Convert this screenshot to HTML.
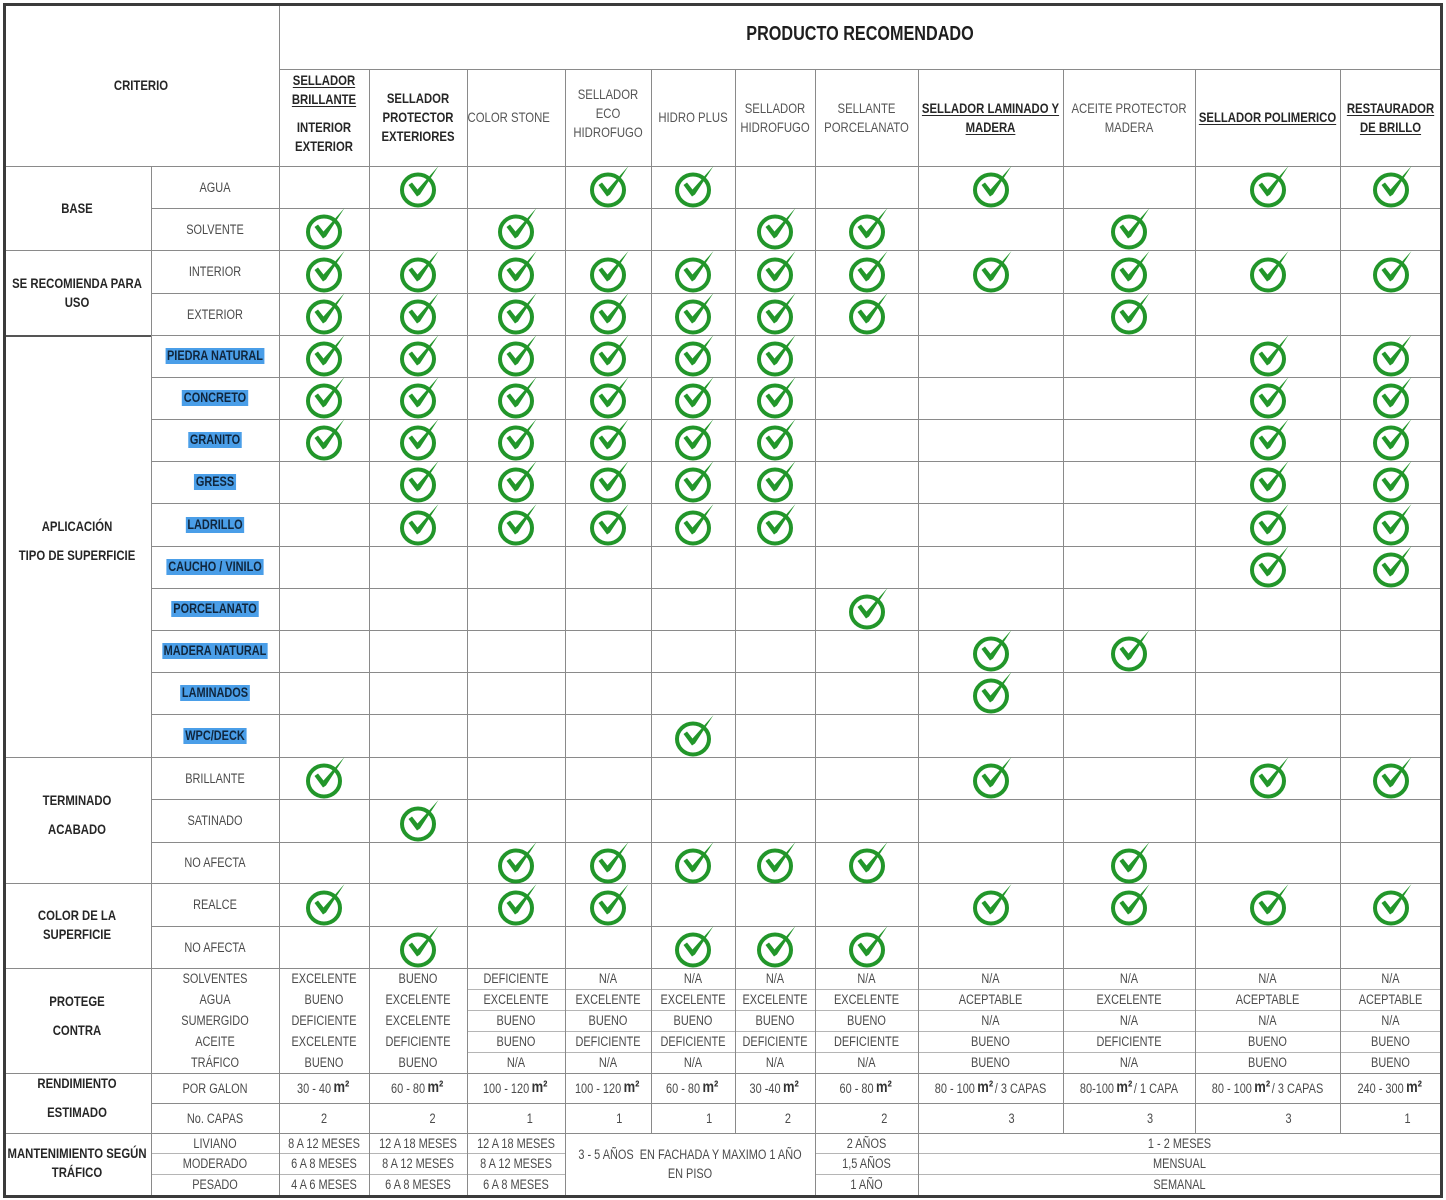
<!DOCTYPE html>
<html><head><meta charset="utf-8">
<style>
*{box-sizing:border-box}
body{margin:0;background:#fff}
#p{position:relative;width:1446px;height:1200px;overflow:hidden;background:#fff;font-family:"Liberation Sans Narrow","Liberation Sans",sans-serif;color:#4a4a4a}
.h{position:absolute;height:1px;background:#8a8a8a}
.v{position:absolute;width:1px;background:#8a8a8a}
.l{background:#b5b5b5}
.ob{position:absolute;left:3px;top:3px;width:1440px;height:1195px;border:3px solid #3b3b3b}
.t{position:absolute;display:flex;align-items:center;justify-content:center;text-align:center;transform:scaleX(.81);white-space:nowrap}
.b{font-weight:bold;color:#262626;font-size:14px}
.s{position:absolute;left:151px;width:128px;display:flex;align-items:center;justify-content:center;font-size:13.5px;color:#4a4a4a;white-space:nowrap;transform:scaleX(.81)}
.hl{background:#4a9ee8;color:#10263d;font-weight:bold;padding:0 2px;line-height:16px;font-size:13.5px}
.hd{position:absolute;top:69px;height:97px;left:279px;display:flex}
.hd>div{display:flex;align-items:center;justify-content:center;text-align:center;line-height:19px;font-size:14px;color:#555;flex:none;white-space:nowrap;transform:scaleX(.81)}
.hd .bb{font-weight:bold;color:#262626}
u{text-underline-offset:2px}
.r{position:absolute;left:151px;display:flex;height:21px;font-size:13.5px;color:#4a4a4a}
.r>span{display:flex;align-items:center;justify-content:center;flex:none;white-space:nowrap;height:100%;transform:scaleX(.81)}
.r>span:nth-child(1){width:128px}
.r>span:nth-child(2){width:90px}
.r>span:nth-child(3){width:98px}
.r>span:nth-child(4){width:98px}
.r>span:nth-child(5){width:86px}
.r>span:nth-child(6){width:84px}
.r>span:nth-child(7){width:80px}
.r>span:nth-child(8){width:103px}
.r>span:nth-child(9){width:145px}
.r>span:nth-child(10){width:132px}
.r>span:nth-child(11){width:145px}
.r>span:nth-child(12){width:101px}
.r i{font-style:normal;position:relative}
.m{font-family:"Liberation Sans",sans-serif;font-weight:bold;font-size:16px;color:#333;margin-left:3px;margin-right:2px}
.k{position:absolute;width:50px;height:50px}
.k ellipse{fill:none;stroke:#22962a;stroke-width:4}
.k path{fill:#22962a}
.x1{left:302px}.x2{left:396px}.x3{left:494px}.x4{left:586px}.x5{left:671px}.x6{left:753px}.x7{left:845px}.x8{left:969px}.x9{left:1107px}.x10{left:1246px}.x11{left:1369px}
.y1{top:162px}.y2{top:204px}.y3{top:247px}.y4{top:289px}.y5{top:331px}.y6{top:373px}.y7{top:415px}.y8{top:457px}.y9{top:500px}.y10{top:542px}.y11{top:584px}.y12{top:626px}.y13{top:668px}.y14{top:711px}.y15{top:753px}.y16{top:796px}.y17{top:838px}.y18{top:880px}.y19{top:922px}
</style></head><body><div id="p">

<!-- horizontal lines -->
<div class="h" style="top:69px;left:279px;width:1162px"></div>
<div class="h" style="top:166px;left:3px;width:1438px"></div>
<div class="h" style="top:208px;left:151px;width:1290px"></div>
<div class="h" style="top:250px;left:3px;width:1438px"></div>
<div class="h" style="top:293px;left:151px;width:1290px"></div>
<div class="h" style="top:335px;left:3px;width:148px;height:2px;background:#555"></div>
<div class="h" style="top:335px;left:151px;width:1290px"></div>
<div class="h" style="top:377px;left:151px;width:1290px"></div>
<div class="h" style="top:419px;left:151px;width:1290px"></div>
<div class="h" style="top:461px;left:151px;width:1290px"></div>
<div class="h" style="top:503px;left:151px;width:1290px"></div>
<div class="h" style="top:546px;left:151px;width:1290px"></div>
<div class="h" style="top:588px;left:151px;width:1290px"></div>
<div class="h" style="top:630px;left:151px;width:1290px"></div>
<div class="h" style="top:672px;left:151px;width:1290px"></div>
<div class="h" style="top:714px;left:151px;width:1290px"></div>
<div class="h" style="top:757px;left:3px;width:1438px"></div>
<div class="h" style="top:799px;left:151px;width:1290px"></div>
<div class="h" style="top:842px;left:151px;width:1290px"></div>
<div class="h" style="top:883px;left:3px;width:1438px"></div>
<div class="h" style="top:926px;left:151px;width:1290px"></div>
<div class="h" style="top:968px;left:3px;width:1438px"></div>
<div class="h l" style="top:989px;left:467px;width:974px"></div>
<div class="h l" style="top:1010px;left:467px;width:974px"></div>
<div class="h l" style="top:1031px;left:467px;width:974px"></div>
<div class="h l" style="top:1052px;left:467px;width:974px"></div>
<div class="h" style="top:1073px;left:3px;width:1438px"></div>
<div class="h" style="top:1103px;left:151px;width:1290px"></div>
<div class="h" style="top:1133px;left:3px;width:1438px"></div>
<div class="h l" style="top:1153px;left:151px;width:414px"></div>
<div class="h l" style="top:1174px;left:151px;width:414px"></div>
<div class="h l" style="top:1153px;left:815px;width:626px"></div>
<div class="h l" style="top:1174px;left:815px;width:626px"></div>

<!-- vertical lines -->
<div class="v" style="left:151px;top:166px;height:1029px"></div>
<div class="v" style="left:279px;top:4px;height:1191px"></div>
<div class="v" style="left:369px;top:69px;height:1126px"></div>
<div class="v" style="left:467px;top:69px;height:1126px"></div>
<div class="v" style="left:565px;top:69px;height:1126px"></div>
<div class="v" style="left:651px;top:69px;height:1064px"></div>
<div class="v" style="left:735px;top:69px;height:1064px"></div>
<div class="v" style="left:815px;top:69px;height:1126px"></div>
<div class="v" style="left:918px;top:69px;height:1126px"></div>
<div class="v" style="left:1063px;top:69px;height:1064px"></div>
<div class="v" style="left:1195px;top:69px;height:1064px"></div>
<div class="v" style="left:1340px;top:69px;height:1064px"></div>

<div class="ob"></div>

<!-- header -->
<div class="t b" style="left:279px;top:4px;width:1162px;height:61px;font-size:20px;color:#1e1e1e">PRODUCTO RECOMENDADO</div>
<div class="t b" style="left:3px;top:4px;width:276px;height:162px">CRITERIO</div>

<div class="hd">
<div class="bb" style="width:90px;padding-bottom:9px"><div><u>SELLADOR<br>BRILLANTE</u><div style="height:9px"></div>INTERIOR<br>EXTERIOR</div></div>
<div class="bb" style="width:98px"><div>SELLADOR<br>PROTECTOR<br>EXTERIORES</div></div>
<div style="width:98px;padding-right:18px"><div>COLOR STONE</div></div>
<div style="width:86px;padding-bottom:9px"><div>SELLADOR<br>ECO<br>HIDROFUGO</div></div>
<div style="width:84px"><div>HIDRO PLUS</div></div>
<div style="width:80px"><div>SELLADOR<br>HIDROFUGO</div></div>
<div style="width:103px"><div>SELLANTE<br>PORCELANATO</div></div>
<div class="bb" style="width:145px"><div><u>SELLADOR LAMINADO Y<br>MADERA</u></div></div>
<div style="width:132px"><div>ACEITE PROTECTOR<br>MADERA</div></div>
<div class="bb" style="width:145px"><div><u>SELLADOR POLIMERICO</u></div></div>
<div class="bb" style="width:101px"><div><u>RESTAURADOR<br>DE BRILLO</u></div></div>
</div>

<!-- left categories -->
<div class="t b" style="left:3px;top:166px;width:148px;height:84px">BASE</div>
<div class="t b" style="left:3px;top:250px;width:148px;height:85px;line-height:19px">SE RECOMIENDA PARA<br>USO</div>
<div class="t b" style="left:3px;top:512px;width:148px;height:58px;line-height:29px">APLICACIÓN<br>TIPO DE SUPERFICIE</div>
<div class="t b" style="left:3px;top:786px;width:148px;height:58px;line-height:29px">TERMINADO<br>ACABADO</div>
<div class="t b" style="left:3px;top:906px;width:148px;height:38px;line-height:19px">COLOR DE LA<br>SUPERFICIE</div>
<div class="t b" style="left:3px;top:987px;width:148px;height:58px;line-height:29px">PROTEGE<br>CONTRA</div>
<div class="t b" style="left:3px;top:1069px;width:148px;height:58px;line-height:29px">RENDIMIENTO<br>ESTIMADO</div>
<div class="t b" style="left:3px;top:1144px;width:148px;height:38px;line-height:19px">MANTENIMIENTO SEGÚN<br>TRÁFICO</div>

<!-- sub labels -->
<div class="s" style="top:166px;height:42px">AGUA</div>
<div class="s" style="top:208px;height:42px">SOLVENTE</div>
<div class="s" style="top:250px;height:43px">INTERIOR</div>
<div class="s" style="top:293px;height:42px">EXTERIOR</div>
<div class="s" style="top:335px;height:42px"><span class="hl">PIEDRA NATURAL</span></div>
<div class="s" style="top:377px;height:42px"><span class="hl">CONCRETO</span></div>
<div class="s" style="top:419px;height:42px"><span class="hl">GRANITO</span></div>
<div class="s" style="top:461px;height:42px"><span class="hl">GRESS</span></div>
<div class="s" style="top:503px;height:43px"><span class="hl">LADRILLO</span></div>
<div class="s" style="top:546px;height:42px"><span class="hl">CAUCHO / VINILO</span></div>
<div class="s" style="top:588px;height:42px"><span class="hl">PORCELANATO</span></div>
<div class="s" style="top:630px;height:42px"><span class="hl">MADERA NATURAL</span></div>
<div class="s" style="top:672px;height:42px"><span class="hl">LAMINADOS</span></div>
<div class="s" style="top:714px;height:43px"><span class="hl">WPC/DECK</span></div>
<div class="s" style="top:757px;height:42px">BRILLANTE</div>
<div class="s" style="top:799px;height:43px">SATINADO</div>
<div class="s" style="top:842px;height:41px">NO AFECTA</div>
<div class="s" style="top:883px;height:43px">REALCE</div>
<div class="s" style="top:926px;height:42px">NO AFECTA</div>

<!-- checks -->
<svg class="k x2 y1" viewBox="0 0 50 50"><ellipse cx="22" cy="28" rx="16" ry="15.5"/><path d="M12.5 23 16 20.5 21.5 27.5 42.5 4 24 32.5 21 34.5z"/></svg>
<svg class="k x4 y1" viewBox="0 0 50 50"><ellipse cx="22" cy="28" rx="16" ry="15.5"/><path d="M12.5 23 16 20.5 21.5 27.5 42.5 4 24 32.5 21 34.5z"/></svg>
<svg class="k x5 y1" viewBox="0 0 50 50"><ellipse cx="22" cy="28" rx="16" ry="15.5"/><path d="M12.5 23 16 20.5 21.5 27.5 42.5 4 24 32.5 21 34.5z"/></svg>
<svg class="k x8 y1" viewBox="0 0 50 50"><ellipse cx="22" cy="28" rx="16" ry="15.5"/><path d="M12.5 23 16 20.5 21.5 27.5 42.5 4 24 32.5 21 34.5z"/></svg>
<svg class="k x10 y1" viewBox="0 0 50 50"><ellipse cx="22" cy="28" rx="16" ry="15.5"/><path d="M12.5 23 16 20.5 21.5 27.5 42.5 4 24 32.5 21 34.5z"/></svg>
<svg class="k x11 y1" viewBox="0 0 50 50"><ellipse cx="22" cy="28" rx="16" ry="15.5"/><path d="M12.5 23 16 20.5 21.5 27.5 42.5 4 24 32.5 21 34.5z"/></svg>

<svg class="k x1 y2" viewBox="0 0 50 50"><ellipse cx="22" cy="28" rx="16" ry="15.5"/><path d="M12.5 23 16 20.5 21.5 27.5 42.5 4 24 32.5 21 34.5z"/></svg>
<svg class="k x3 y2" viewBox="0 0 50 50"><ellipse cx="22" cy="28" rx="16" ry="15.5"/><path d="M12.5 23 16 20.5 21.5 27.5 42.5 4 24 32.5 21 34.5z"/></svg>
<svg class="k x6 y2" viewBox="0 0 50 50"><ellipse cx="22" cy="28" rx="16" ry="15.5"/><path d="M12.5 23 16 20.5 21.5 27.5 42.5 4 24 32.5 21 34.5z"/></svg>
<svg class="k x7 y2" viewBox="0 0 50 50"><ellipse cx="22" cy="28" rx="16" ry="15.5"/><path d="M12.5 23 16 20.5 21.5 27.5 42.5 4 24 32.5 21 34.5z"/></svg>
<svg class="k x9 y2" viewBox="0 0 50 50"><ellipse cx="22" cy="28" rx="16" ry="15.5"/><path d="M12.5 23 16 20.5 21.5 27.5 42.5 4 24 32.5 21 34.5z"/></svg>

<svg class="k x1 y3" viewBox="0 0 50 50"><ellipse cx="22" cy="28" rx="16" ry="15.5"/><path d="M12.5 23 16 20.5 21.5 27.5 42.5 4 24 32.5 21 34.5z"/></svg>
<svg class="k x2 y3" viewBox="0 0 50 50"><ellipse cx="22" cy="28" rx="16" ry="15.5"/><path d="M12.5 23 16 20.5 21.5 27.5 42.5 4 24 32.5 21 34.5z"/></svg>
<svg class="k x3 y3" viewBox="0 0 50 50"><ellipse cx="22" cy="28" rx="16" ry="15.5"/><path d="M12.5 23 16 20.5 21.5 27.5 42.5 4 24 32.5 21 34.5z"/></svg>
<svg class="k x4 y3" viewBox="0 0 50 50"><ellipse cx="22" cy="28" rx="16" ry="15.5"/><path d="M12.5 23 16 20.5 21.5 27.5 42.5 4 24 32.5 21 34.5z"/></svg>
<svg class="k x5 y3" viewBox="0 0 50 50"><ellipse cx="22" cy="28" rx="16" ry="15.5"/><path d="M12.5 23 16 20.5 21.5 27.5 42.5 4 24 32.5 21 34.5z"/></svg>
<svg class="k x6 y3" viewBox="0 0 50 50"><ellipse cx="22" cy="28" rx="16" ry="15.5"/><path d="M12.5 23 16 20.5 21.5 27.5 42.5 4 24 32.5 21 34.5z"/></svg>
<svg class="k x7 y3" viewBox="0 0 50 50"><ellipse cx="22" cy="28" rx="16" ry="15.5"/><path d="M12.5 23 16 20.5 21.5 27.5 42.5 4 24 32.5 21 34.5z"/></svg>
<svg class="k x8 y3" viewBox="0 0 50 50"><ellipse cx="22" cy="28" rx="16" ry="15.5"/><path d="M12.5 23 16 20.5 21.5 27.5 42.5 4 24 32.5 21 34.5z"/></svg>
<svg class="k x9 y3" viewBox="0 0 50 50"><ellipse cx="22" cy="28" rx="16" ry="15.5"/><path d="M12.5 23 16 20.5 21.5 27.5 42.5 4 24 32.5 21 34.5z"/></svg>
<svg class="k x10 y3" viewBox="0 0 50 50"><ellipse cx="22" cy="28" rx="16" ry="15.5"/><path d="M12.5 23 16 20.5 21.5 27.5 42.5 4 24 32.5 21 34.5z"/></svg>
<svg class="k x11 y3" viewBox="0 0 50 50"><ellipse cx="22" cy="28" rx="16" ry="15.5"/><path d="M12.5 23 16 20.5 21.5 27.5 42.5 4 24 32.5 21 34.5z"/></svg>

<svg class="k x1 y4" viewBox="0 0 50 50"><ellipse cx="22" cy="28" rx="16" ry="15.5"/><path d="M12.5 23 16 20.5 21.5 27.5 42.5 4 24 32.5 21 34.5z"/></svg>
<svg class="k x2 y4" viewBox="0 0 50 50"><ellipse cx="22" cy="28" rx="16" ry="15.5"/><path d="M12.5 23 16 20.5 21.5 27.5 42.5 4 24 32.5 21 34.5z"/></svg>
<svg class="k x3 y4" viewBox="0 0 50 50"><ellipse cx="22" cy="28" rx="16" ry="15.5"/><path d="M12.5 23 16 20.5 21.5 27.5 42.5 4 24 32.5 21 34.5z"/></svg>
<svg class="k x4 y4" viewBox="0 0 50 50"><ellipse cx="22" cy="28" rx="16" ry="15.5"/><path d="M12.5 23 16 20.5 21.5 27.5 42.5 4 24 32.5 21 34.5z"/></svg>
<svg class="k x5 y4" viewBox="0 0 50 50"><ellipse cx="22" cy="28" rx="16" ry="15.5"/><path d="M12.5 23 16 20.5 21.5 27.5 42.5 4 24 32.5 21 34.5z"/></svg>
<svg class="k x6 y4" viewBox="0 0 50 50"><ellipse cx="22" cy="28" rx="16" ry="15.5"/><path d="M12.5 23 16 20.5 21.5 27.5 42.5 4 24 32.5 21 34.5z"/></svg>
<svg class="k x7 y4" viewBox="0 0 50 50"><ellipse cx="22" cy="28" rx="16" ry="15.5"/><path d="M12.5 23 16 20.5 21.5 27.5 42.5 4 24 32.5 21 34.5z"/></svg>
<svg class="k x9 y4" viewBox="0 0 50 50"><ellipse cx="22" cy="28" rx="16" ry="15.5"/><path d="M12.5 23 16 20.5 21.5 27.5 42.5 4 24 32.5 21 34.5z"/></svg>

<svg class="k x1 y5" viewBox="0 0 50 50"><ellipse cx="22" cy="28" rx="16" ry="15.5"/><path d="M12.5 23 16 20.5 21.5 27.5 42.5 4 24 32.5 21 34.5z"/></svg>
<svg class="k x2 y5" viewBox="0 0 50 50"><ellipse cx="22" cy="28" rx="16" ry="15.5"/><path d="M12.5 23 16 20.5 21.5 27.5 42.5 4 24 32.5 21 34.5z"/></svg>
<svg class="k x3 y5" viewBox="0 0 50 50"><ellipse cx="22" cy="28" rx="16" ry="15.5"/><path d="M12.5 23 16 20.5 21.5 27.5 42.5 4 24 32.5 21 34.5z"/></svg>
<svg class="k x4 y5" viewBox="0 0 50 50"><ellipse cx="22" cy="28" rx="16" ry="15.5"/><path d="M12.5 23 16 20.5 21.5 27.5 42.5 4 24 32.5 21 34.5z"/></svg>
<svg class="k x5 y5" viewBox="0 0 50 50"><ellipse cx="22" cy="28" rx="16" ry="15.5"/><path d="M12.5 23 16 20.5 21.5 27.5 42.5 4 24 32.5 21 34.5z"/></svg>
<svg class="k x6 y5" viewBox="0 0 50 50"><ellipse cx="22" cy="28" rx="16" ry="15.5"/><path d="M12.5 23 16 20.5 21.5 27.5 42.5 4 24 32.5 21 34.5z"/></svg>
<svg class="k x10 y5" viewBox="0 0 50 50"><ellipse cx="22" cy="28" rx="16" ry="15.5"/><path d="M12.5 23 16 20.5 21.5 27.5 42.5 4 24 32.5 21 34.5z"/></svg>
<svg class="k x11 y5" viewBox="0 0 50 50"><ellipse cx="22" cy="28" rx="16" ry="15.5"/><path d="M12.5 23 16 20.5 21.5 27.5 42.5 4 24 32.5 21 34.5z"/></svg>

<svg class="k x1 y6" viewBox="0 0 50 50"><ellipse cx="22" cy="28" rx="16" ry="15.5"/><path d="M12.5 23 16 20.5 21.5 27.5 42.5 4 24 32.5 21 34.5z"/></svg>
<svg class="k x2 y6" viewBox="0 0 50 50"><ellipse cx="22" cy="28" rx="16" ry="15.5"/><path d="M12.5 23 16 20.5 21.5 27.5 42.5 4 24 32.5 21 34.5z"/></svg>
<svg class="k x3 y6" viewBox="0 0 50 50"><ellipse cx="22" cy="28" rx="16" ry="15.5"/><path d="M12.5 23 16 20.5 21.5 27.5 42.5 4 24 32.5 21 34.5z"/></svg>
<svg class="k x4 y6" viewBox="0 0 50 50"><ellipse cx="22" cy="28" rx="16" ry="15.5"/><path d="M12.5 23 16 20.5 21.5 27.5 42.5 4 24 32.5 21 34.5z"/></svg>
<svg class="k x5 y6" viewBox="0 0 50 50"><ellipse cx="22" cy="28" rx="16" ry="15.5"/><path d="M12.5 23 16 20.5 21.5 27.5 42.5 4 24 32.5 21 34.5z"/></svg>
<svg class="k x6 y6" viewBox="0 0 50 50"><ellipse cx="22" cy="28" rx="16" ry="15.5"/><path d="M12.5 23 16 20.5 21.5 27.5 42.5 4 24 32.5 21 34.5z"/></svg>
<svg class="k x10 y6" viewBox="0 0 50 50"><ellipse cx="22" cy="28" rx="16" ry="15.5"/><path d="M12.5 23 16 20.5 21.5 27.5 42.5 4 24 32.5 21 34.5z"/></svg>
<svg class="k x11 y6" viewBox="0 0 50 50"><ellipse cx="22" cy="28" rx="16" ry="15.5"/><path d="M12.5 23 16 20.5 21.5 27.5 42.5 4 24 32.5 21 34.5z"/></svg>

<svg class="k x1 y7" viewBox="0 0 50 50"><ellipse cx="22" cy="28" rx="16" ry="15.5"/><path d="M12.5 23 16 20.5 21.5 27.5 42.5 4 24 32.5 21 34.5z"/></svg>
<svg class="k x2 y7" viewBox="0 0 50 50"><ellipse cx="22" cy="28" rx="16" ry="15.5"/><path d="M12.5 23 16 20.5 21.5 27.5 42.5 4 24 32.5 21 34.5z"/></svg>
<svg class="k x3 y7" viewBox="0 0 50 50"><ellipse cx="22" cy="28" rx="16" ry="15.5"/><path d="M12.5 23 16 20.5 21.5 27.5 42.5 4 24 32.5 21 34.5z"/></svg>
<svg class="k x4 y7" viewBox="0 0 50 50"><ellipse cx="22" cy="28" rx="16" ry="15.5"/><path d="M12.5 23 16 20.5 21.5 27.5 42.5 4 24 32.5 21 34.5z"/></svg>
<svg class="k x5 y7" viewBox="0 0 50 50"><ellipse cx="22" cy="28" rx="16" ry="15.5"/><path d="M12.5 23 16 20.5 21.5 27.5 42.5 4 24 32.5 21 34.5z"/></svg>
<svg class="k x6 y7" viewBox="0 0 50 50"><ellipse cx="22" cy="28" rx="16" ry="15.5"/><path d="M12.5 23 16 20.5 21.5 27.5 42.5 4 24 32.5 21 34.5z"/></svg>
<svg class="k x10 y7" viewBox="0 0 50 50"><ellipse cx="22" cy="28" rx="16" ry="15.5"/><path d="M12.5 23 16 20.5 21.5 27.5 42.5 4 24 32.5 21 34.5z"/></svg>
<svg class="k x11 y7" viewBox="0 0 50 50"><ellipse cx="22" cy="28" rx="16" ry="15.5"/><path d="M12.5 23 16 20.5 21.5 27.5 42.5 4 24 32.5 21 34.5z"/></svg>

<svg class="k x2 y8" viewBox="0 0 50 50"><ellipse cx="22" cy="28" rx="16" ry="15.5"/><path d="M12.5 23 16 20.5 21.5 27.5 42.5 4 24 32.5 21 34.5z"/></svg>
<svg class="k x3 y8" viewBox="0 0 50 50"><ellipse cx="22" cy="28" rx="16" ry="15.5"/><path d="M12.5 23 16 20.5 21.5 27.5 42.5 4 24 32.5 21 34.5z"/></svg>
<svg class="k x4 y8" viewBox="0 0 50 50"><ellipse cx="22" cy="28" rx="16" ry="15.5"/><path d="M12.5 23 16 20.5 21.5 27.5 42.5 4 24 32.5 21 34.5z"/></svg>
<svg class="k x5 y8" viewBox="0 0 50 50"><ellipse cx="22" cy="28" rx="16" ry="15.5"/><path d="M12.5 23 16 20.5 21.5 27.5 42.5 4 24 32.5 21 34.5z"/></svg>
<svg class="k x6 y8" viewBox="0 0 50 50"><ellipse cx="22" cy="28" rx="16" ry="15.5"/><path d="M12.5 23 16 20.5 21.5 27.5 42.5 4 24 32.5 21 34.5z"/></svg>
<svg class="k x10 y8" viewBox="0 0 50 50"><ellipse cx="22" cy="28" rx="16" ry="15.5"/><path d="M12.5 23 16 20.5 21.5 27.5 42.5 4 24 32.5 21 34.5z"/></svg>
<svg class="k x11 y8" viewBox="0 0 50 50"><ellipse cx="22" cy="28" rx="16" ry="15.5"/><path d="M12.5 23 16 20.5 21.5 27.5 42.5 4 24 32.5 21 34.5z"/></svg>

<svg class="k x2 y9" viewBox="0 0 50 50"><ellipse cx="22" cy="28" rx="16" ry="15.5"/><path d="M12.5 23 16 20.5 21.5 27.5 42.5 4 24 32.5 21 34.5z"/></svg>
<svg class="k x3 y9" viewBox="0 0 50 50"><ellipse cx="22" cy="28" rx="16" ry="15.5"/><path d="M12.5 23 16 20.5 21.5 27.5 42.5 4 24 32.5 21 34.5z"/></svg>
<svg class="k x4 y9" viewBox="0 0 50 50"><ellipse cx="22" cy="28" rx="16" ry="15.5"/><path d="M12.5 23 16 20.5 21.5 27.5 42.5 4 24 32.5 21 34.5z"/></svg>
<svg class="k x5 y9" viewBox="0 0 50 50"><ellipse cx="22" cy="28" rx="16" ry="15.5"/><path d="M12.5 23 16 20.5 21.5 27.5 42.5 4 24 32.5 21 34.5z"/></svg>
<svg class="k x6 y9" viewBox="0 0 50 50"><ellipse cx="22" cy="28" rx="16" ry="15.5"/><path d="M12.5 23 16 20.5 21.5 27.5 42.5 4 24 32.5 21 34.5z"/></svg>
<svg class="k x10 y9" viewBox="0 0 50 50"><ellipse cx="22" cy="28" rx="16" ry="15.5"/><path d="M12.5 23 16 20.5 21.5 27.5 42.5 4 24 32.5 21 34.5z"/></svg>
<svg class="k x11 y9" viewBox="0 0 50 50"><ellipse cx="22" cy="28" rx="16" ry="15.5"/><path d="M12.5 23 16 20.5 21.5 27.5 42.5 4 24 32.5 21 34.5z"/></svg>

<svg class="k x10 y10" viewBox="0 0 50 50"><ellipse cx="22" cy="28" rx="16" ry="15.5"/><path d="M12.5 23 16 20.5 21.5 27.5 42.5 4 24 32.5 21 34.5z"/></svg>
<svg class="k x11 y10" viewBox="0 0 50 50"><ellipse cx="22" cy="28" rx="16" ry="15.5"/><path d="M12.5 23 16 20.5 21.5 27.5 42.5 4 24 32.5 21 34.5z"/></svg>

<svg class="k x7 y11" viewBox="0 0 50 50"><ellipse cx="22" cy="28" rx="16" ry="15.5"/><path d="M12.5 23 16 20.5 21.5 27.5 42.5 4 24 32.5 21 34.5z"/></svg>

<svg class="k x8 y12" viewBox="0 0 50 50"><ellipse cx="22" cy="28" rx="16" ry="15.5"/><path d="M12.5 23 16 20.5 21.5 27.5 42.5 4 24 32.5 21 34.5z"/></svg>
<svg class="k x9 y12" viewBox="0 0 50 50"><ellipse cx="22" cy="28" rx="16" ry="15.5"/><path d="M12.5 23 16 20.5 21.5 27.5 42.5 4 24 32.5 21 34.5z"/></svg>

<svg class="k x8 y13" viewBox="0 0 50 50"><ellipse cx="22" cy="28" rx="16" ry="15.5"/><path d="M12.5 23 16 20.5 21.5 27.5 42.5 4 24 32.5 21 34.5z"/></svg>

<svg class="k x5 y14" viewBox="0 0 50 50"><ellipse cx="22" cy="28" rx="16" ry="15.5"/><path d="M12.5 23 16 20.5 21.5 27.5 42.5 4 24 32.5 21 34.5z"/></svg>

<svg class="k x1 y15" viewBox="0 0 50 50"><ellipse cx="22" cy="28" rx="16" ry="15.5"/><path d="M12.5 23 16 20.5 21.5 27.5 42.5 4 24 32.5 21 34.5z"/></svg>
<svg class="k x8 y15" viewBox="0 0 50 50"><ellipse cx="22" cy="28" rx="16" ry="15.5"/><path d="M12.5 23 16 20.5 21.5 27.5 42.5 4 24 32.5 21 34.5z"/></svg>
<svg class="k x10 y15" viewBox="0 0 50 50"><ellipse cx="22" cy="28" rx="16" ry="15.5"/><path d="M12.5 23 16 20.5 21.5 27.5 42.5 4 24 32.5 21 34.5z"/></svg>
<svg class="k x11 y15" viewBox="0 0 50 50"><ellipse cx="22" cy="28" rx="16" ry="15.5"/><path d="M12.5 23 16 20.5 21.5 27.5 42.5 4 24 32.5 21 34.5z"/></svg>

<svg class="k x2 y16" viewBox="0 0 50 50"><ellipse cx="22" cy="28" rx="16" ry="15.5"/><path d="M12.5 23 16 20.5 21.5 27.5 42.5 4 24 32.5 21 34.5z"/></svg>

<svg class="k x3 y17" viewBox="0 0 50 50"><ellipse cx="22" cy="28" rx="16" ry="15.5"/><path d="M12.5 23 16 20.5 21.5 27.5 42.5 4 24 32.5 21 34.5z"/></svg>
<svg class="k x4 y17" viewBox="0 0 50 50"><ellipse cx="22" cy="28" rx="16" ry="15.5"/><path d="M12.5 23 16 20.5 21.5 27.5 42.5 4 24 32.5 21 34.5z"/></svg>
<svg class="k x5 y17" viewBox="0 0 50 50"><ellipse cx="22" cy="28" rx="16" ry="15.5"/><path d="M12.5 23 16 20.5 21.5 27.5 42.5 4 24 32.5 21 34.5z"/></svg>
<svg class="k x6 y17" viewBox="0 0 50 50"><ellipse cx="22" cy="28" rx="16" ry="15.5"/><path d="M12.5 23 16 20.5 21.5 27.5 42.5 4 24 32.5 21 34.5z"/></svg>
<svg class="k x7 y17" viewBox="0 0 50 50"><ellipse cx="22" cy="28" rx="16" ry="15.5"/><path d="M12.5 23 16 20.5 21.5 27.5 42.5 4 24 32.5 21 34.5z"/></svg>
<svg class="k x9 y17" viewBox="0 0 50 50"><ellipse cx="22" cy="28" rx="16" ry="15.5"/><path d="M12.5 23 16 20.5 21.5 27.5 42.5 4 24 32.5 21 34.5z"/></svg>

<svg class="k x1 y18" viewBox="0 0 50 50"><ellipse cx="22" cy="28" rx="16" ry="15.5"/><path d="M12.5 23 16 20.5 21.5 27.5 42.5 4 24 32.5 21 34.5z"/></svg>
<svg class="k x3 y18" viewBox="0 0 50 50"><ellipse cx="22" cy="28" rx="16" ry="15.5"/><path d="M12.5 23 16 20.5 21.5 27.5 42.5 4 24 32.5 21 34.5z"/></svg>
<svg class="k x4 y18" viewBox="0 0 50 50"><ellipse cx="22" cy="28" rx="16" ry="15.5"/><path d="M12.5 23 16 20.5 21.5 27.5 42.5 4 24 32.5 21 34.5z"/></svg>
<svg class="k x8 y18" viewBox="0 0 50 50"><ellipse cx="22" cy="28" rx="16" ry="15.5"/><path d="M12.5 23 16 20.5 21.5 27.5 42.5 4 24 32.5 21 34.5z"/></svg>
<svg class="k x9 y18" viewBox="0 0 50 50"><ellipse cx="22" cy="28" rx="16" ry="15.5"/><path d="M12.5 23 16 20.5 21.5 27.5 42.5 4 24 32.5 21 34.5z"/></svg>
<svg class="k x10 y18" viewBox="0 0 50 50"><ellipse cx="22" cy="28" rx="16" ry="15.5"/><path d="M12.5 23 16 20.5 21.5 27.5 42.5 4 24 32.5 21 34.5z"/></svg>
<svg class="k x11 y18" viewBox="0 0 50 50"><ellipse cx="22" cy="28" rx="16" ry="15.5"/><path d="M12.5 23 16 20.5 21.5 27.5 42.5 4 24 32.5 21 34.5z"/></svg>

<svg class="k x2 y19" viewBox="0 0 50 50"><ellipse cx="22" cy="28" rx="16" ry="15.5"/><path d="M12.5 23 16 20.5 21.5 27.5 42.5 4 24 32.5 21 34.5z"/></svg>
<svg class="k x5 y19" viewBox="0 0 50 50"><ellipse cx="22" cy="28" rx="16" ry="15.5"/><path d="M12.5 23 16 20.5 21.5 27.5 42.5 4 24 32.5 21 34.5z"/></svg>
<svg class="k x6 y19" viewBox="0 0 50 50"><ellipse cx="22" cy="28" rx="16" ry="15.5"/><path d="M12.5 23 16 20.5 21.5 27.5 42.5 4 24 32.5 21 34.5z"/></svg>
<svg class="k x7 y19" viewBox="0 0 50 50"><ellipse cx="22" cy="28" rx="16" ry="15.5"/><path d="M12.5 23 16 20.5 21.5 27.5 42.5 4 24 32.5 21 34.5z"/></svg>

<!-- protege -->
<div class="r" style="top:968px"><span>SOLVENTES</span><span>EXCELENTE</span><span>BUENO</span><span>DEFICIENTE</span><span>N/A</span><span>N/A</span><span>N/A</span><span>N/A</span><span>N/A</span><span>N/A</span><span>N/A</span><span>N/A</span></div>
<div class="r" style="top:989px"><span>AGUA</span><span>BUENO</span><span>EXCELENTE</span><span>EXCELENTE</span><span>EXCELENTE</span><span>EXCELENTE</span><span>EXCELENTE</span><span>EXCELENTE</span><span>ACEPTABLE</span><span>EXCELENTE</span><span>ACEPTABLE</span><span>ACEPTABLE</span></div>
<div class="r" style="top:1010px"><span>SUMERGIDO</span><span>DEFICIENTE</span><span>EXCELENTE</span><span>BUENO</span><span>BUENO</span><span>BUENO</span><span>BUENO</span><span>BUENO</span><span>N/A</span><span>N/A</span><span>N/A</span><span>N/A</span></div>
<div class="r" style="top:1031px"><span>ACEITE</span><span>EXCELENTE</span><span>DEFICIENTE</span><span>BUENO</span><span>DEFICIENTE</span><span>DEFICIENTE</span><span>DEFICIENTE</span><span>DEFICIENTE</span><span>BUENO</span><span>DEFICIENTE</span><span>BUENO</span><span>BUENO</span></div>
<div class="r" style="top:1052px"><span>TRÁFICO</span><span>BUENO</span><span>BUENO</span><span>N/A</span><span>N/A</span><span>N/A</span><span>N/A</span><span>N/A</span><span>BUENO</span><span>N/A</span><span>BUENO</span><span>BUENO</span></div>

<!-- rendimiento -->
<div class="r" style="top:1073px;height:30px"><span>POR GALON</span><span>30 - 40<b class="m">m²</b></span><span>60 - 80<b class="m">m²</b></span><span>100 - 120<b class="m">m²</b></span><span>100 - 120<b class="m">m²</b></span><span>60 - 80<b class="m">m²</b></span><span>30 -40<b class="m">m²</b></span><span>60 - 80<b class="m">m²</b></span><span>80 - 100<b class="m">m²</b>/ 3 CAPAS</span><span>80-100<b class="m">m²</b>/ 1 CAPA</span><span>80 - 100<b class="m">m²</b>/ 3 CAPAS</span><span>240 - 300<b class="m">m²</b></span></div>
<div class="r" style="top:1103px;height:30px"><span>No. CAPAS</span><span><i>2</i></span><span><i style="left:18px">2</i></span><span><i style="left:17px">1</i></span><span><i style="left:14px">1</i></span><span><i style="left:20px">1</i></span><span><i style="left:16px">2</i></span><span><i style="left:22px">2</i></span><span><i style="left:26px">3</i></span><span><i style="left:26px">3</i></span><span><i style="left:26px">3</i></span><span><i style="left:21px">1</i></span></div>

<!-- mantenimiento -->
<div class="r" style="top:1133px;height:20px"><span>LIVIANO</span><span>8 A 12 MESES</span><span>12 A 18 MESES</span><span>12 A 18 MESES</span></div>
<div class="r" style="top:1153px;height:21px"><span>MODERADO</span><span>6 A 8 MESES</span><span>8 A 12 MESES</span><span>8 A 12 MESES</span></div>
<div class="r" style="top:1174px;height:21px"><span>PESADO</span><span>4 A 6 MESES</span><span>6 A 8 MESES</span><span>6 A 8 MESES</span></div>
<div class="t" style="left:565px;top:1133px;width:250px;height:62px;line-height:19px;font-size:13.5px">3 - 5 AÑOS&nbsp; EN FACHADA Y MAXIMO 1 AÑO<br>EN PISO</div>
<div class="t" style="left:815px;top:1133px;width:103px;height:20px;font-size:13.5px">2 AÑOS</div>
<div class="t" style="left:815px;top:1153px;width:103px;height:21px;font-size:13.5px">1,5 AÑOS</div>
<div class="t" style="left:815px;top:1174px;width:103px;height:21px;font-size:13.5px">1 AÑO</div>
<div class="t" style="left:918px;top:1133px;width:523px;height:20px;font-size:13.5px">1 - 2 MESES</div>
<div class="t" style="left:918px;top:1153px;width:523px;height:21px;font-size:13.5px">MENSUAL</div>
<div class="t" style="left:918px;top:1174px;width:523px;height:21px;font-size:13.5px">SEMANAL</div>

</div></body></html>
